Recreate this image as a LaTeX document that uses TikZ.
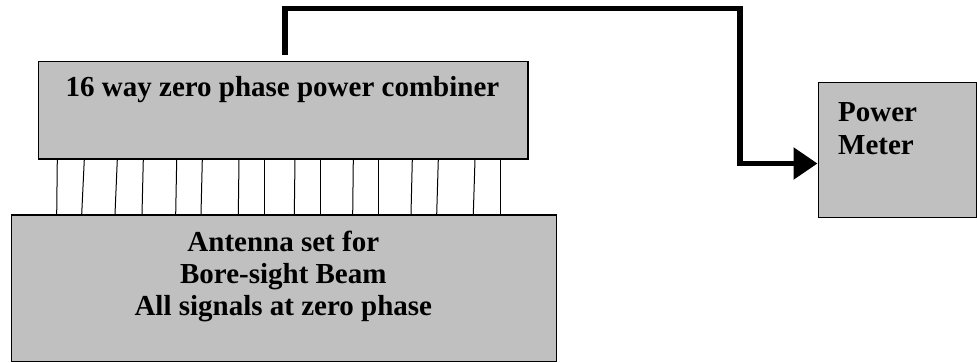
\documentclass[tikz,border=0pt]{standalone}
\usepackage{fontspec}
\setmainfont{Liberation Serif}
\usetikzlibrary{arrows.meta,calc}
\definecolor{boxgray}{HTML}{C0C0C0}
\begin{document}
\begin{tikzpicture}[x=1pt,y=-1pt,
  box/.style={draw=black,line width=1.2pt,fill=boxgray,rectangle,inner sep=0pt,anchor=north west},
  lbl/.style={inner sep=0pt,font=\fontsize{29}{32}\selectfont\bfseries},
  wire/.style={line width=1pt,black},
  feed/.style={line width=5.5pt,-{Triangle[length=24pt,width=31pt]}}]
\useasboundingbox (0,0) rectangle (977,362);
\node[box,minimum width=489.6pt,minimum height=97.3pt] (comb) at (37.7,61) {};
\node[box,minimum width=545.3pt,minimum height=146.7pt] (ant) at (10.7,214.3) {};
\node[box,minimum width=158.5pt,minimum height=135pt] (pm) at (817.5,81.7) {};
\node[lbl,anchor=base] (t1) at (282.5,96) {16 way zero phase power combiner};
\node[lbl,anchor=base] (t2) at (283.3,251) {Antenna set for};
\node[lbl,anchor=base] (t3) at (283.3,283.3) {Bore-sight Beam};
\node[lbl,anchor=base] (t4) at (283.3,315) {All signals at zero phase};
\node[lbl,anchor=base west] (t5) at (838,121) {Power};
\node[lbl,anchor=base west] (t6) at (838,154) {Meter};
\foreach \a/\b in {19.6/46,46.6/71,79.6/104.3,105.6/131.3,139/165,164.6/190.3,201.3/227.6,226.6/253.6,257.3/283.6,282.3/309.3,315.6/342,340.6/367.6,374.6/400.3,400.6/426,437.3/462.6,462.3/489.3}
  \draw[wire] ($(comb.south west)+(\a,0)$) -- ($(ant.north west)+(\b,0)$);
\coordinate (out) at (285,55);
\coordinate (pmin) at (817.5,163.5);
\draw[feed] (out) |- (740,8.3) |- (pmin);
\end{tikzpicture}
\end{document}
